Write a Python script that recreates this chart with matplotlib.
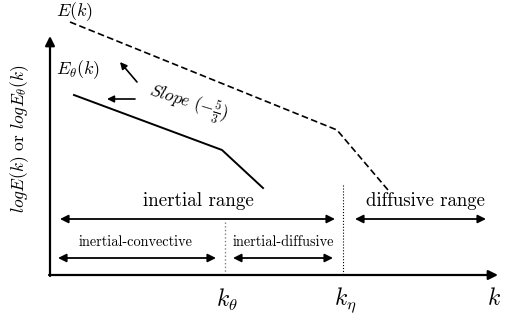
import matplotlib.pyplot as plt

plt.rcParams['mathtext.fontset'] = 'cm'

# schematic curves (pixel-like coordinates, y down)
ek_x = [70, 337, 388]
ek_y = [22, 130, 190]
eth_x = [74, 222, 263]
eth_y = [95, 150, 188]

# characteristic wavenumbers
k_theta = 225
k_eta = 343

W, H = 507, 318


def darrow(ax, x0, x1, y):
    ax.annotate('', xy=(x1, y), xytext=(x0, y),
                arrowprops=dict(arrowstyle='<|-|>', color='black', lw=1.3,
                                mutation_scale=12, shrinkA=0, shrinkB=0))


def main():
    fig = plt.figure(figsize=(W / 100, H / 100), dpi=100)
    ax = fig.add_axes([0, 0, 1, 1])
    ax.set_xlim(0, W)
    ax.set_ylim(H, 0)
    ax.axis('off')

    # axes
    ax.annotate('', xy=(50, 36), xytext=(50, 276),
                arrowprops=dict(arrowstyle='-|>', color='black', lw=1.6,
                                mutation_scale=14, shrinkA=0, shrinkB=0))
    ax.annotate('', xy=(498, 275), xytext=(49, 275),
                arrowprops=dict(arrowstyle='-|>', color='black', lw=1.6,
                                mutation_scale=14, shrinkA=0, shrinkB=0))

    # spectra
    ax.plot(ek_x, ek_y, color='black', lw=1.2, ls=(0, (4, 2)))
    ax.plot(eth_x, eth_y, color='black', lw=1.4)

    ax.text(74, 12, r'$E(k)$', fontsize=13, ha='center', va='center')
    ax.text(78, 70, r'$E_\theta(k)$', fontsize=13, ha='center', va='center')

    # slope label
    ax.text(188, 104, r'$Slope\ (-\frac{5}{3})$', fontsize=12.5, rotation=-17,
            ha='center', va='center')
    ax.annotate('', xy=(120, 62), xytext=(137, 82),
                arrowprops=dict(arrowstyle='-|>', color='black', lw=1.2,
                                mutation_scale=10, shrinkA=0, shrinkB=0))
    ax.annotate('', xy=(107, 99), xytext=(135, 99),
                arrowprops=dict(arrowstyle='-|>', color='black', lw=1.2,
                                mutation_scale=10, shrinkA=0, shrinkB=0))

    # ranges
    darrow(ax, 60, 335, 219)
    darrow(ax, 355, 486, 219)
    darrow(ax, 58, 216, 258)
    darrow(ax, 233, 333, 258)
    ax.text(198, 201, 'inertial range', family='cmr10', fontsize=13.7,
            ha='center', va='center')
    ax.text(425, 201, 'diffusive range', family='cmr10', fontsize=13.5,
            ha='center', va='center')
    ax.text(136, 242, 'inertial-convective', family='cmr10', fontsize=10.3,
            ha='center', va='center')
    ax.text(283, 242, 'inertial-diffusive', family='cmr10', fontsize=10.3,
            ha='center', va='center')

    ax.plot([k_theta, k_theta], [222, 275], color='gray', lw=1, ls=':')
    ax.plot([k_eta, k_eta], [185, 275], color='black', lw=0.8, ls=':')

    ax.text(k_theta + 2, 300, r'$k_\theta$', fontsize=17, ha='center', va='center')
    ax.text(k_eta + 2, 300, r'$k_\eta$', fontsize=17, ha='center', va='center')
    ax.text(494, 298, r'$k$', fontsize=17, ha='center', va='center')

    ax.text(20, 139, r'$logE(k)$ or $logE_\theta(k)$', family='cmr10',
            fontsize=12.5, rotation=90, ha='center', va='center')

    fig.savefig('out.png', dpi=100)


if __name__ == '__main__':
    main()
